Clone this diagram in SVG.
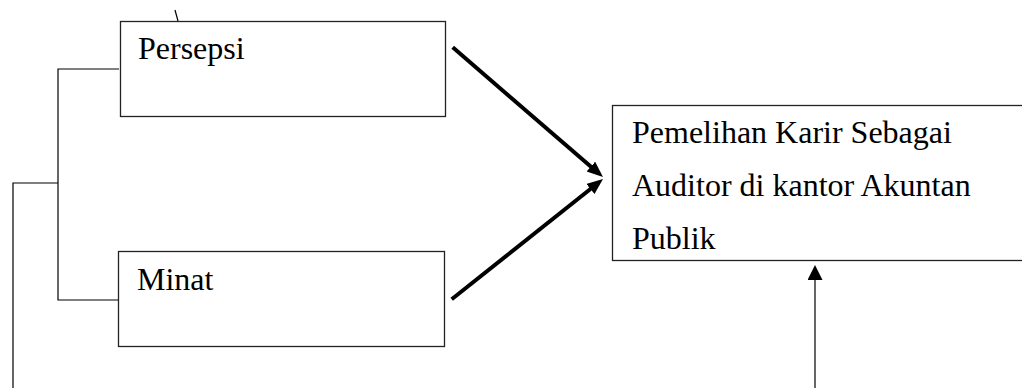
<svg xmlns="http://www.w3.org/2000/svg" width="1022" height="388" viewBox="0 0 1022 388">
<style>
.box{fill:#fff;stroke:#222;stroke-width:1.3}
.t{font-family:"Liberation Serif","Times New Roman",serif;font-size:32px;fill:#000}
.thin{stroke:#000;stroke-width:1.2;fill:none}
.thick{stroke:#000;stroke-width:4;fill:none}
</style>
<defs>
<marker id="ah" markerUnits="userSpaceOnUse" markerWidth="18" markerHeight="14" refX="4" refY="6.5" orient="auto">
<path d="M0,0 L16,6.5 L0,13 Z" fill="#000"/>
</marker>
<marker id="ah2" markerUnits="userSpaceOnUse" markerWidth="16" markerHeight="16" refX="0" refY="7.5" orient="auto">
<path d="M0,0 L15,7.5 L0,15 Z" fill="#000"/>
</marker>
</defs>
<rect width="1022" height="388" fill="#fff"/>
<g id="connectors">
<line class="thin" x1="175" y1="10" x2="178" y2="21"/>
<polyline class="thin" points="119,69 58,69 58,300 120,300"/>
<polyline class="thin" points="58,183 13,183 13,388"/>
<line class="thick" x1="452.7" y1="47.3" x2="593.9" y2="169.2" marker-end="url(#ah)"/>
<line class="thick" x1="451.7" y1="299.3" x2="593.6" y2="186.5" marker-end="url(#ah)"/>
<line class="thin" x1="815" y1="388" x2="815" y2="280" marker-end="url(#ah2)"/>
</g>
<g id="persepsi">
<rect class="box" x="120.5" y="21.5" width="325" height="95"/>
<text class="t" x="138" y="59">Persepsi</text>
</g>
<g id="minat">
<rect class="box" x="118.5" y="251.5" width="326" height="95"/>
<text class="t" x="137" y="290">Minat</text>
</g>
<g id="pemilihan">
<rect class="box" x="612.5" y="105.5" width="430" height="155"/>
<text class="t" x="632" y="143">Pemelihan Karir Sebagai</text>
<text class="t" x="632" y="196">Auditor di kantor Akuntan</text>
<text class="t" x="632" y="249">Publik</text>
</g>
</svg>
